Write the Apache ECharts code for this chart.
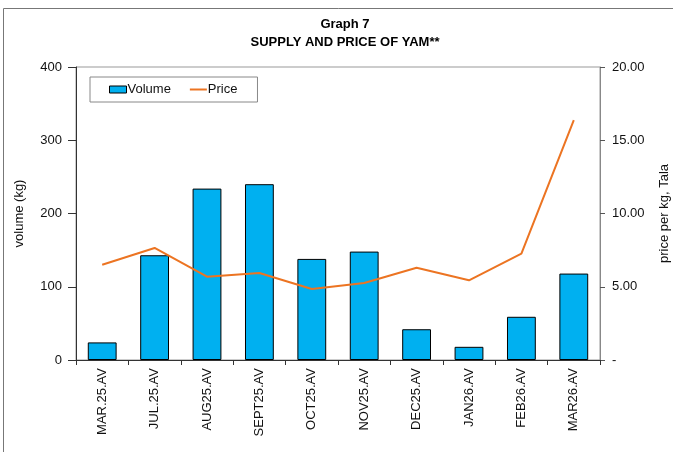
<!DOCTYPE html>
<html>
<head>
<meta charset="utf-8">
<script src="https://cdn.jsdelivr.net/npm/echarts@6/dist/echarts.min.js"></script>
<style>
  html, body { margin: 0; padding: 0; background: #fff; }
  #chart { width: 673px; height: 452px; }
</style>
</head>
<body>
<div id="chart"></div>
<script>
const months = ['MAR.25.AV', 'JUL.25.AV', 'AUG25.AV', 'SEPT25.AV', 'OCT25.AV', 'NOV25.AV', 'DEC25.AV', 'JAN26.AV', 'FEB26.AV', 'MAR26.AV']
const volume = [24, 143, 234, 240, 138, 148, 42, 18, 59, 118]
const price = [6.5, 7.65, 5.69, 5.94, 4.85, 5.26, 6.3, 5.44, 7.26, 16.38]

const font = 'Liberation Sans, Arial, sans-serif'
const chart = echarts.init(document.getElementById('chart'))

const option = {
  backgroundColor: '#fff',
  textStyle: { fontFamily: font },
  title: {
    text: 'Graph 7\nSUPPLY AND PRICE OF YAM**',
    left: 340,
    top: 10,
    textAlign: 'center',
    textStyle: { fontSize: 13, fontWeight: 'bold', color: '#000', lineHeight: 18, fontFamily: font }
  },
  legend: {
    left: 90,
    top: 77,
    orient: 'horizontal',
    borderColor: '#888',
    borderWidth: 1,
    padding: [6, 20, 6, 19],
    itemWidth: 17,
    itemHeight: 7,
    itemGap: 18,
    textStyle: { fontSize: 13, color: '#111', padding: [0, 0, 0, -4] },
    data: [
      { name: 'Volume', icon: 'rect', itemStyle: { borderWidth: 1 } },
      { name: 'Price', itemStyle: { opacity: 0 } }
    ]
  },
  graphic: [
    { type: 'rect', shape: { x: 3.5, y: 8.5, width: 700, height: 500 }, style: { fill: 'none', stroke: '#777', lineWidth: 1 }, silent: true, z: -1 }
  ],
  grid: {
    left: 76, right: 73, top: 67, bottom: 92,
    outerBoundsMode: 'none',
    show: true, borderColor: '#999', borderWidth: 1
  },
  xAxis: {
    type: 'category',
    data: months,
    axisLine: { lineStyle: { color: '#333' } },
    axisTick: { show: true, alignWithLabel: false, length: 5, lineStyle: { color: '#333' } },
    axisLabel: { rotate: 90, fontSize: 13, color: '#111', margin: 8, interval: 0 }
  },
  yAxis: [
    {
      type: 'value',
      min: 0, max: 400, interval: 100,
      name: 'volume (kg)',
      nameLocation: 'middle',
      nameGap: 50,
      nameRotate: 90,
      nameTextStyle: { fontSize: 13, color: '#111' },
      axisLine: { show: true, lineStyle: { color: '#333' } },
      axisTick: { show: true, length: 8, lineStyle: { color: '#333' } },
      axisLabel: { fontSize: 13, color: '#111', margin: 14 },
      splitLine: { show: false }
    },
    {
      type: 'value',
      min: 0, max: 20, interval: 5,
      position: 'right',
      name: 'price per kg, Tala',
      nameLocation: 'middle',
      nameGap: 58,
      nameRotate: 90,
      nameTextStyle: { fontSize: 13, color: '#111' },
      axisLine: { show: true, lineStyle: { color: '#888' } },
      axisTick: { show: true, length: 5, lineStyle: { color: '#555' } },
      axisLabel: {
        fontSize: 13, color: '#111', margin: 12,
        formatter: v => v === 0 ? '-' : v.toFixed(2)
      },
      splitLine: { show: false }
    }
  ],
  series: [
    {
      name: 'Volume',
      type: 'bar',
      data: volume,
      barWidth: '55%',
      itemStyle: { color: '#00B0F0', borderColor: '#000', borderWidth: 1 }
    },
    {
      name: 'Price',
      type: 'line',
      yAxisIndex: 1,
      data: price,
      symbol: 'none',
      lineStyle: { color: '#EC7422', width: 2 },
      itemStyle: { color: '#EC7422' }
    }
  ]
}

chart.setOption(option)
</script>
</body>
</html>
